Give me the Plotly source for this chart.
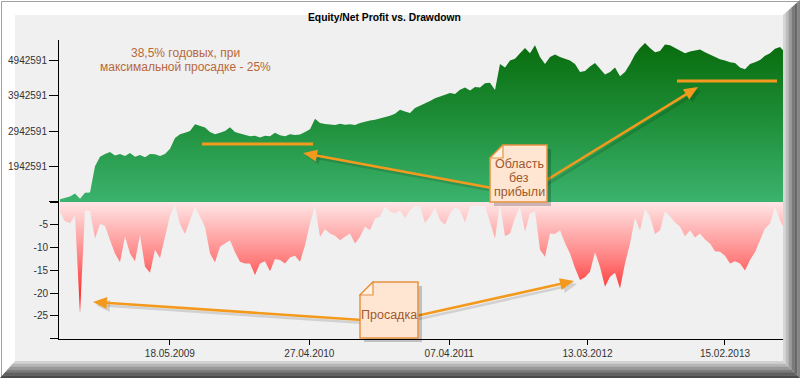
import math
import pandas as pd
import plotly.graph_objects as go

# ---------------- data ----------------
equity_mln = [
    1.02, 1.05, 1.10, 1.18, 1.03, 1.20, 1.21, 1.95, 2.22, 2.30,
    2.36, 2.26, 2.30, 2.24, 2.33, 2.22, 2.27, 2.21, 2.30, 2.29,
    2.24, 2.30, 2.45, 2.75, 2.86, 2.90, 2.95, 3.14, 3.10, 3.05,
    2.92, 2.86, 2.90, 2.95, 3.06, 2.92, 2.88, 2.84, 2.80, 2.82,
    2.77, 2.82, 2.80, 2.90, 2.83, 2.80, 2.86, 2.84, 2.85, 2.92,
    3.00, 3.30, 3.18, 3.15, 3.13, 3.12, 3.16, 3.13, 3.14, 3.12,
    3.18, 3.22, 3.25, 3.27, 3.30, 3.34, 3.38, 3.44, 3.55, 3.50,
    3.46, 3.60, 3.66, 3.72, 3.80, 3.88, 3.94, 3.98, 4.03, 4.00,
    4.12, 4.18, 4.10, 4.20, 4.18, 4.30, 4.32, 4.11, 4.85, 4.75,
    4.95, 5.00, 5.15, 5.30, 5.15, 5.38, 5.05, 4.85, 5.05, 5.12,
    5.05, 5.00, 4.95, 4.85, 4.62, 4.65, 4.78, 4.88, 4.70, 4.55,
    4.62, 4.75, 4.50, 4.62, 4.85, 5.12, 5.30, 5.44, 5.30, 5.18,
    5.22, 5.40, 5.38, 5.30, 5.22, 5.15, 5.20, 5.22, 5.26, 5.18,
    5.12, 5.05, 4.98, 4.95, 4.90, 4.88, 4.75, 4.70, 4.85, 4.90,
    4.96, 5.08, 5.15, 5.28, 5.33, 5.18,
]
drawdown_pct = [
    -2.2, -4.2, -4.6, -3.0, -24.5, -1.8, -2.0, -8.0, -4.8, -5.2,
    -8.4, -11.3, -13.2, -7.5, -11.3, -13.0, -7.2, -14.2, -15.5, -10.5,
    -12.3, -7.5, -3.0, -0.6, -4.8, -7.0, -4.0, -1.0, -3.2, -5.5,
    -11.3, -13.2, -9.8, -9.0, -8.4, -11.0, -13.1, -13.5, -13.5, -16.0,
    -13.5, -13.0, -15.2, -12.5, -12.7, -13.5, -12.2, -11.8, -13.1, -9.5,
    -4.7, -0.8, -7.6, -6.0, -6.9, -7.4, -8.4, -7.6, -6.9, -9.1,
    -7.6, -5.4, -6.2, -3.6, -3.2, -1.0, -2.1, -2.5, -1.8, -3.5,
    -1.8, -0.8, -1.0, -4.6, -3.2, -1.2, -4.0, -5.0, -2.5, -1.2,
    -1.8, -4.5, -1.0, -0.7, -1.0, -0.8, -4.7, -8.0, -0.3, -7.5,
    -6.9, -3.5, -1.0, -6.5, -2.5, -2.0, -10.5, -12.0, -6.9, -7.0,
    -6.2, -9.0, -11.3, -14.5, -17.1, -16.5, -15.3, -11.0, -14.2, -18.6,
    -16.4, -15.5, -19.0, -13.5, -9.1, -3.5, -6.2, -1.5, -3.2, -7.0,
    -6.2, -2.0, -3.2, -4.5, -5.4, -7.5, -6.2, -7.8, -6.9, -8.2,
    -9.1, -10.8, -10.9, -11.8, -13.5, -13.0, -13.5, -15.0, -12.7, -11.0,
    -8.4, -5.8, -4.7, -1.0, -4.0, -6.2,
]
start_date = "2008-08-20"
end_date = "2013-07-13"

equity_tickvals = [942591, 1942591, 2942591, 3942591, 4942591]
equity_ticktext = ["", "1942591", "2942591", "3942591", "4942591"]
dd_tickvals = [-30, -25, -20, -15, -10, -5, 0]
dd_ticktext = ["", "-25", "-20", "-15", "-10", "-5", ""]
x_tick_dates = ["2009-05-18", "2010-04-27", "2011-04-07", "2012-03-13", "2013-02-15"]
x_tick_text = ["18.05.2009", "27.04.2010", "07.04.2011", "13.03.2012", "15.02.2013"]

title_text = "<b>Equity/Net Profit vs. Drawdown</b>"
note_lines = ["38,5% годовых, при", "максимальной просадке - 25%"]
box1_lines = ["Область", "без", "прибыли"]
box2_lines = ["Просадка"]

# ---------------- derived ----------------
dates = pd.date_range(start_date, end_date, periods=len(equity_mln))
equity = [v * 1e6 for v in equity_mln]
step = dates[1] - dates[0]
x_range = [dates[0] - step / 5, dates[-1] - step * 2 / 5]

W, H = 800, 378
L, R, T, B = 59, 17, 40, 39
PW, PH = W - L - R, H - T - B


def px(x):
    return (x - L) / PW


def py(y):
    return (H - B - y) / PH


split = py(202)
FONT = "Liberation Sans, Arial, sans-serif"
ORANGE = "#f39a1e"

fig = go.Figure()
fig.add_trace(go.Scatter(
    x=dates, y=equity, xaxis="x", yaxis="y", mode="lines",
    line=dict(width=0, color="#0a6e10"), fill="tozeroy",
    fillgradient=dict(type="vertical", start=942591, stop=5450000,
                      colorscale=[[0, "#3bb36e"], [0.5, "#1f8f3a"], [1, "#086c0c"]]),
    hoverinfo="skip", showlegend=False))
fig.add_trace(go.Scatter(
    x=dates, y=drawdown_pct, xaxis="x", yaxis="y2", mode="lines",
    line=dict(width=0, color="#ff6666"), fill="tozeroy",
    fillgradient=dict(type="vertical", start=-25, stop=0,
                      colorscale=[[0, "#ff0000"], [0.5, "#ff8080"], [1, "#ffe6e6"]]),
    hoverinfo="skip", showlegend=False))


def path(pts, close=True):
    s = "M " + " L ".join(f"{px(x):.5f},{py(y):.5f}" for x, y in pts)
    return s + (" Z" if close else "")


shapes = []
# panel
shapes.append(dict(type="path", xref="paper", yref="paper", layer="below",
                   path=path([(15, 15), (783, 15), (783, 361), (15, 361)]),
                   fillcolor="#f0f0f0", line=dict(width=0)))
# outer border
shapes.append(dict(type="path", xref="paper", yref="paper", layer="below",
                   path=path([(1.5, 1.5), (799, 1.5), (799, 377), (1.5, 377)]),
                   fillcolor="rgba(0,0,0,0)", line=dict(width=1, color="#a0a0a0")))
# right bevel
rcols = ["#d6d6d6", "#bcbcbc", "#9c9c9c", "#7a7a7a", "#686868", "#858585"]
n = len(rcols)
for i, c in enumerate(rcols):
    xa = 783 + i * 17 / n
    xb = xa + 17 / n + 0.3
    yt = lambda x: 15 - (x - 783) * 15 / 17
    yb = lambda x: 361 + (x - 783)
    shapes.append(dict(type="path", xref="paper", yref="paper", layer="below",
                       path=path([(xa, yt(xa)), (xb, yt(xb)), (xb, yb(xb)), (xa, yb(xa))]),
                       fillcolor=c, line=dict(width=0)))
# bottom bevel
bcols = ["#d2d2d2", "#b6b6b6", "#989898", "#7c7c7c", "#606060", "#4a4a4a"]
n = len(bcols)
for j, c in enumerate(bcols):
    ya = 361 + j * 17 / n
    yb_ = ya + 17 / n + 0.3
    xl = lambda y: 15 - (y - 361) * 15 / 17
    xr = lambda y: 783 + (y - 361)
    shapes.append(dict(type="path", xref="paper", yref="paper", layer="below",
                       path=path([(xl(ya), ya), (xr(ya), ya), (xr(yb_), yb_), (xl(yb_), yb_)]),
                       fillcolor=c, line=dict(width=0)))

SHADOW = "rgba(0,0,0,0.13)"


def add_arrow(x0, y0, x1, y1, Lh=14, hw=6):
    dx, dy = x1 - x0, y1 - y0
    d = math.hypot(dx, dy)
    ux, uy = dx / d, dy / d
    bx, by = x1 - ux * Lh, y1 - uy * Lh
    nx, ny = -uy, ux
    tri = [(x1, y1), (bx + nx * hw, by + ny * hw), (bx - nx * hw, by - ny * hw)]
    for off, col in ((3, SHADOW), (0, ORANGE)):
        shapes.append(dict(type="line", xref="paper", yref="paper", layer="above",
                           x0=px(x0 + off), y0=py(y0 + off), x1=px(bx + ux * 2 + off), y1=py(by + uy * 2 + off),
                           line=dict(color=col, width=2.6)))
        shapes.append(dict(type="path", xref="paper", yref="paper", layer="above",
                           path=path([(x + off, y + off) for x, y in tri]),
                           fillcolor=col, line=dict(width=0)))


def add_hline(x0, x1, y):
    shapes.append(dict(type="line", xref="paper", yref="paper", layer="above",
                       x0=px(x0), y0=py(y), x1=px(x1), y1=py(y),
                       line=dict(color=ORANGE, width=3)))


def add_box(x0, y0, x1, y1, f=13):
    body = [(x0 + f, y0), (x1, y0), (x1, y1), (x0, y1), (x0, y0 + f)]
    shapes.append(dict(type="path", xref="paper", yref="paper", layer="above",
                       path=path([(x + 4, y + 4) for x, y in body]),
                       fillcolor="rgba(0,0,0,0.2)", line=dict(width=0)))
    shapes.append(dict(type="path", xref="paper", yref="paper", layer="above",
                       path=path(body), fillcolor="#fee6d2",
                       line=dict(color="#e8913f", width=1.5)))
    shapes.append(dict(type="path", xref="paper", yref="paper", layer="above",
                       path=path([(x0, y0 + f), (x0 + f, y0 + f), (x0 + f, y0)]),
                       fillcolor="#fff1e4", line=dict(color="#e8913f", width=1.2)))


add_hline(202, 313, 144)
add_hline(677, 777, 81)
add_arrow(492, 188, 303, 153)
add_arrow(545, 181, 698, 87)
add_arrow(362, 320, 93, 302)
add_arrow(416, 316, 574, 281)
add_box(490, 145, 547, 202)
add_box(360, 282, 418, 338)


def txt(text, x, y, size, color):
    return dict(text=text, x=px(x), y=py(y), xref="paper", yref="paper", showarrow=False,
                xanchor="center", yanchor="middle", font=dict(family=FONT, size=size, color=color))


annotations = [txt(title_text, 384, 17, 10.3, "#000000")]
for t, yy in zip(note_lines, (53, 67)):
    annotations.append(txt(t, 185, yy, 12, "#b8683a"))
for t, yy in zip(box1_lines, (164, 178, 192)):
    annotations.append(txt(t, 519, yy, 12.5, "#a0582e"))
for t, yy in zip(box2_lines, (315,)):
    annotations.append(txt(t, 389, yy, 12.5, "#a0582e"))

axis_common = dict(showline=True, linecolor="#000000", linewidth=1, ticks="outside",
                   tickcolor="#000000", tickwidth=1, showgrid=False, zeroline=False,
                   fixedrange=True, automargin=False)
tickfont = dict(family=FONT, size=10, color="#333333")

fig.update_layout(
    width=W, height=H, autosize=False,
    margin=dict(l=L, r=R, t=T, b=B, pad=0, autoexpand=False),
    paper_bgcolor="#ffffff", plot_bgcolor="#f0f0f0",
    showlegend=False,
    xaxis=dict(anchor="y2", type="date", range=x_range, tickvals=x_tick_dates, ticktext=x_tick_text,
               ticklen=5, tickfont=tickfont, **axis_common),
    yaxis=dict(anchor="x", domain=[split, 1], range=[941000, 5528000],
               tickvals=equity_tickvals, ticktext=equity_ticktext, ticklen=9,
               tickfont=tickfont, **axis_common),
    yaxis2=dict(anchor="x", domain=[0, split], range=[-30.05, 0.0],
                tickvals=dd_tickvals, ticktext=dd_ticktext, ticklen=8,
                tickfont=tickfont, **axis_common),
    shapes=shapes,
    annotations=annotations,
)

fig.write_html("out.html", config={"displayModeBar": False},
               post_script="document.body.style.margin='0';document.body.style.overflow='hidden';")
